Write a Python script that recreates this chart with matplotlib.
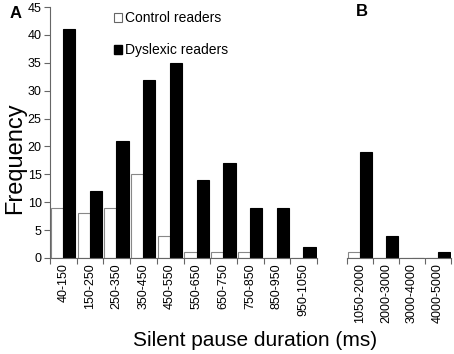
import matplotlib
matplotlib.use("Agg")
import matplotlib.pyplot as plt
from matplotlib.patches import Patch
import numpy as np

plt.rcParams['font.family'] = ['Liberation Sans', 'DejaVu Sans']

cats_a = ["40-150", "150-250", "250-350", "350-450", "450-550", "550-650",
          "650-750", "750-850", "850-950", "950-1050"]
control_a = [9, 8, 9, 15, 4, 1, 1, 1, 0, 0]
dyslexic_a = [41, 12, 21, 32, 35, 14, 17, 9, 9, 2]

cats_b = ["1050-2000", "2000-3000", "3000-4000", "4000-5000"]
control_b = [1, 0, 0, 0]
dyslexic_b = [19, 4, 0, 1]

fig = plt.figure(figsize=(4.54, 3.54), dpi=100)
W, H = 454, 354
axA = fig.add_axes([50 / W, (H - 258) / H, (317 - 50) / W, (258 - 7) / H])
axB = fig.add_axes([347 / W, (H - 258) / H, (451 - 347) / W, (258 - 7) / H])

edge = '#666666'
bw = 0.46

def draw(ax, cats, ctrl, dys):
    n = len(cats)
    x = np.arange(n)
    ax.bar(x - 0.48 + bw / 2 + 0.01, ctrl, width=bw, color='white', edgecolor='#888888', linewidth=0.8)
    ax.bar(x - 0.48 + bw + bw / 2 + 0.01, dys, width=bw, color='black', edgecolor='black', linewidth=0.8)
    ax.set_xlim(-0.5, n - 0.5)
    ax.set_ylim(0, 45)
    ax.set_xticks(x)
    ax.set_xticklabels(cats, rotation=90, fontsize=9)
    ax.set_xticks(np.arange(n + 1) - 0.5, minor=True)
    ax.tick_params(axis='x', which='major', length=0, pad=4)
    ax.tick_params(axis='x', which='minor', length=4, width=0.8, color=edge, direction='out')
    for s in ['top', 'right']:
        ax.spines[s].set_visible(False)
    ax.spines['bottom'].set_color(edge)
    ax.spines['left'].set_color(edge)

draw(axA, cats_a, control_a, dyslexic_a)
draw(axB, cats_b, control_b, dyslexic_b)

axA.set_yticks(np.arange(0, 46, 5))
axA.tick_params(axis='y', labelsize=9, length=4, width=0.8, color=edge, pad=2)

axB.spines['left'].set_visible(False)
axB.set_yticks([])

handles = [Patch(facecolor='white', edgecolor='#666666', linewidth=0.8),
           Patch(facecolor='black', edgecolor='black')]
axA.legend(handles, ["Control readers", "Dyslexic readers"], loc='upper left',
           bbox_to_anchor=(0.22, 1.005), frameon=False, fontsize=10,
           handlelength=0.55, handleheight=0.55, handletextpad=0.25,
           labelspacing=1.3, borderaxespad=0)

fig.text(10 / W, 1 - 13 / H, "A", fontsize=12, fontweight='bold', va='center', ha='left')
fig.text(362 / W, 1 - 12 / H, "B", fontsize=12, fontweight='bold', va='center', ha='center')
fig.text(15 / W, 1 - 158 / H, "Frequency", fontsize=17, rotation=90, ha='center', va='center')
fig.text(255 / W, 1 - 340 / H, "Silent pause duration (ms)", fontsize=15, ha='center', va='center')

fig.savefig("out.png", dpi=100)
